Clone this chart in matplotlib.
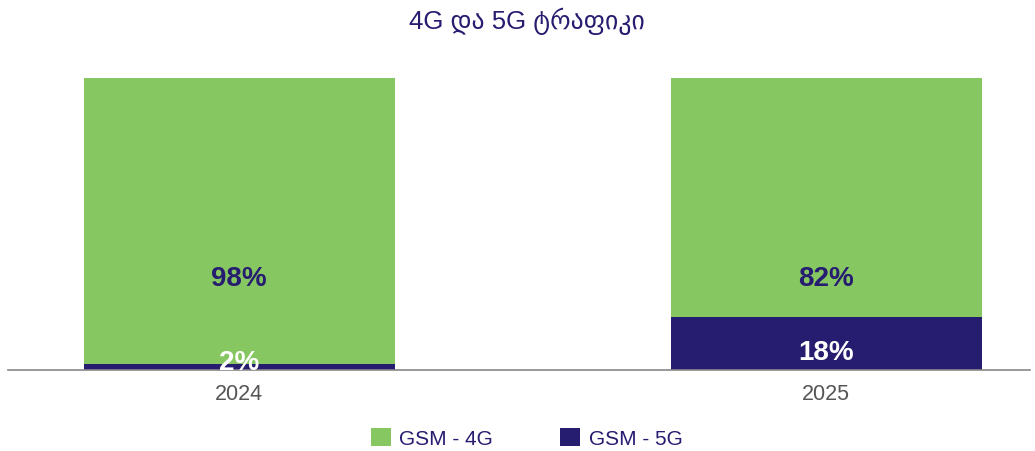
import numpy as np
from matplotlib import pyplot as plt

plt.rcParams['font.family'] = ['Liberation Sans', 'DejaVu Sans']

years = ["2024", "2025"]
share_4g = [98, 82]
share_5g = [2, 18]
labels_4g = ["98%", "82%"]
labels_5g = ["2%", "18%"]

green = "#86c762"
navy = "#261c70"

fig = plt.figure(figsize=(10.35, 4.52), dpi=100)
ax = fig.add_axes([8 / 1035, 1 - 370.5 / 452, 1022 / 1035, 292 / 452])

x = np.arange(len(years))
w = 0.53
ax.bar(x, share_5g, w, color=navy, label="GSM - 5G")
ax.bar(x, share_4g, w, bottom=share_5g, color=green, label="GSM - 4G")

# value labels
for i in range(len(years)):
    ax.text(x[i], 31.5, labels_4g[i], ha="center", va="center",
            fontsize=20, fontweight="bold", color=navy)
    ax.text(x[i], max(2.6, share_5g[i] * 0.33), labels_5g[i], ha="center",
            va="center", fontsize=20, fontweight="bold", color="white")

ax.set_xlim(-0.394, 1.347)
ax.set_ylim(0, 100)
ax.set_xticks(x)
ax.set_xticklabels(years, fontsize=15.5, color="#555555")
ax.tick_params(axis="x", length=0, pad=10)
ax.set_yticks([])
for s in ["top", "right", "left"]:
    ax.spines[s].set_visible(False)
ax.spines["bottom"].set_color("#888888")
ax.spines["bottom"].set_linewidth(1.2)

fig.text(0.509, 1 - 21 / 452, "4G და 5G ტრაფიკი", ha="center", va="center",
         fontsize=18.5, color=navy)

handles, lbls = ax.get_legend_handles_labels()
fig.legend(handles[::-1], lbls[::-1], loc="center", bbox_to_anchor=(0.5087, 1 - 439 / 452),
           ncol=2, frameon=False, fontsize=15, handlelength=0.96, handleheight=0.95,
           handletextpad=0.4, columnspacing=3.25, labelcolor=navy)

fig.savefig("out.png", dpi=100)
